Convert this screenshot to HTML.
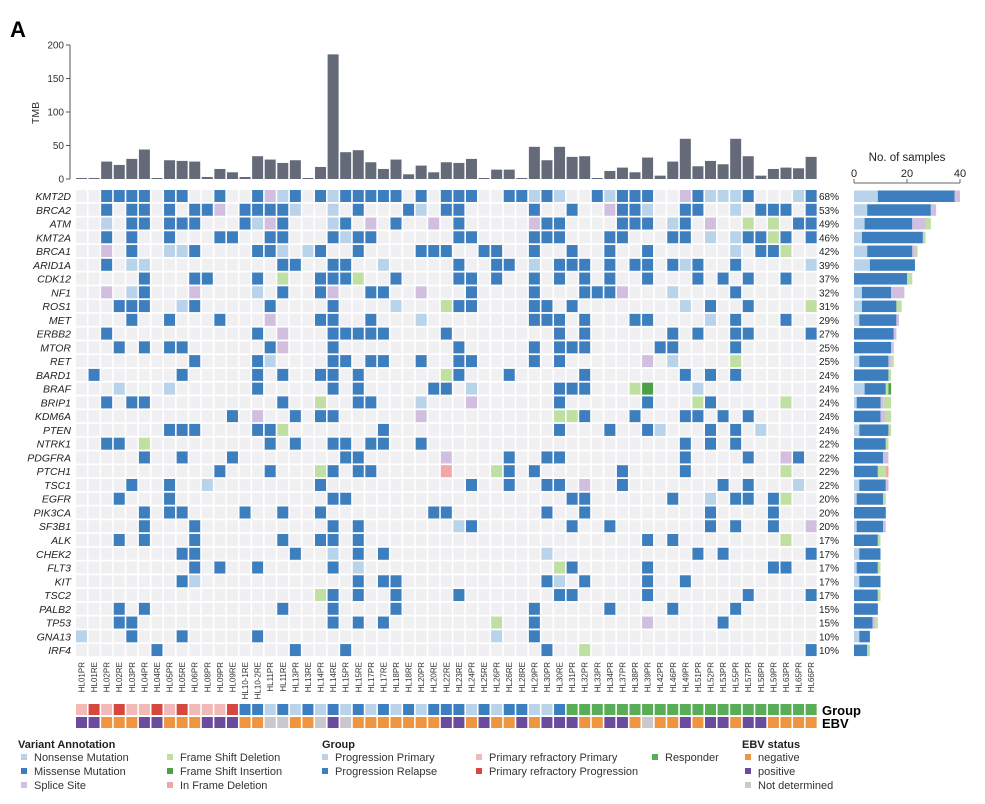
<!DOCTYPE html>
<html><head><meta charset="utf-8"><style>
body{margin:0;background:#fff;}
svg{display:block;font-family:"Liberation Sans",sans-serif;}
</style></head><body>
<svg id="chart" width="985" height="804" viewBox="0 0 985 804" xmlns="http://www.w3.org/2000/svg">
<text x="10" y="37" font-size="22" font-weight="bold">A</text>
<g id="tmb"></g>
<g id="grid"></g>
<g id="side"></g>
<g id="tracks"></g>
<g id="legend"></g>
</svg>
<script>
const samples=["HL01PR","HL01RE","HL02PR","HL02RE","HL03PR","HL04PR","HL04RE","HL05PR","HL05RE","HL06PR","HL08PR","HL09PR","HL09RE","HL10-1RE","HL10-2RE","HL11PR","HL11RE","HL13PR","HL13RE","HL14PR","HL14RE","HL15PR","HL15RE","HL17PR","HL17RE","HL18PR","HL18RE","HL20PR","HL20RE","HL22RE","HL23RE","HL24PR","HL25RE","HL26PR","HL26RE","HL28RE","HL29PR","HL30PR","HL30RE","HL31PR","HL32PR","HL33PR","HL34PR","HL37PR","HL38PR","HL39PR","HL42PR","HL46PR","HL49PR","HL51PR","HL52PR","HL53PR","HL55PR","HL57PR","HL58PR","HL59PR","HL63PR","HL65PR","HL66PR"];
const tmbValues=[1,1,26,21,30,44,1,28,27,26,3,15,10,3,34,29,24,28,1,18,186,40,43,25,15,29,7,20,10,25,24,30,1,14,14,1,48,28,48,33,34,1,12,17,10,32,5,26,60,19,27,22,60,34,5,15,17,16,33];
const tmbTicks=[0,50,100,150,200];
const genes=["KMT2D","BRCA2","ATM","KMT2A","BRCA1","ARID1A","CDK12","NF1","ROS1","MET","ERBB2","MTOR","RET","BARD1","BRAF","BRIP1","KDM6A","PTEN","NTRK1","PDGFRA","PTCH1","TSC1","EGFR","PIK3CA","SF3B1","ALK","CHEK2","FLT3","KIT","TSC2","PALB2","TP53","GNA13","IRF4"];
const pctLabels=["68%","53%","49%","46%","42%","39%","37%","32%","31%","29%","27%","25%","25%","24%","24%","24%","24%","24%","22%","22%","22%","22%","20%","20%","20%","17%","17%","17%","17%","17%","15%","15%","10%","10%"];
// mutations: gene row -> "col:type" (M missense, N nonsense, S splice, F fs del, I fs ins, D in-frame del)
const mutations=[
"2M 3M 4M 5M 7M 8M 11M 14M 15S 16N 17M 19M 20N 21M 22M 23M 24M 25M 27M 29M 30M 31M 34M 35M 36N 37M 38N 41M 42N 43M 44M 45M 48S 49M 50N 51N 52N 53M 57N 58M",
"2M 4M 5M 7M 9M 10M 11S 13M 14M 15M 16M 17N 20N 22M 26M 27N 29M 30M 36M 39M 42S 43M 44M 45N 48M 49M 52N 54M 55M 56M 58M",
"2N 4M 5M 7M 8M 9M 13M 14N 15S 16M 20N 21M 23S 25M 28S 30M 36S 37M 38M 43M 44M 45M 47N 48M 50S 53F 55F 57M 58M",
"2M 4M 7M 11M 12M 15M 16M 20M 21N 22M 23M 30M 31M 36M 37M 38M 42M 43M 47M 48M 50N 52N 53M 54M 55F 56M 58M",
"2S 4M 7N 8N 9M 14M 15M 16N 18N 19M 22M 27M 28M 29M 32M 33M 36M 39M 42M 45M 52N 54M 55M 56F",
"2M 4N 5N 16M 17M 20M 21M 24N 30M 33M 34M 36N 38M 39M 40M 42M 44M 45M 47M 48N 49M 52M 58N",
"5M 9M 10M 14M 16F 19M 20M 21M 22F 25M 30M 31M 33M 36M 38M 40M 42M 45M 49M 51M 53M 56M",
"2S 4N 5M 9S 14N 16M 19M 20S 23M 24M 27S 31M 36M 40M 41M 42M 43S 47N 52M",
"3M 4M 5M 8N 9M 15M 20M 25N 29F 30M 31M 36M 37M 39M 48N 50M 53M 58F",
"4M 7M 11M 15S 19M 20M 23M 27N 36M 37M 38M 40M 44M 45M 50N 52M 56M",
"2M 14M 16S 20M 21M 22M 23M 24M 29M 38M 40M 47M 49M 52M 53M 58M",
"3M 5M 7M 8M 15M 16S 20M 30M 36M 38M 39M 40M 46M 47M 52M",
"9M 14M 15N 20M 21M 23M 24M 27M 30M 31M 36M 38M 45S 47N 52F",
"1M 8M 14M 16M 19M 20M 22M 29F 30M 34M 40M 48M 50M 52M",
"3N 7N 14M 20M 22M 28M 29M 31N 38M 39M 40M 44F 45I 49N",
"2M 4M 5M 16M 19F 22M 23M 27N 31S 38M 45M 49F 50M 56F",
"12M 14S 17M 19M 20M 27S 38F 39F 40M 44M 48M 49M 51M 53M",
"7M 8M 9M 14M 15M 16F 24M 38M 42M 45M 46N 50M 52M 54N",
"2M 3M 5F 15M 17M 20M 21M 23M 24M 27M 48M 50M 52M",
"5M 8M 12M 21M 22M 29S 34M 37M 38M 48M 53M 56S 57M",
"11M 15M 19F 20M 22M 23M 29D 33F 34M 36M 43M 48M 56F",
"4M 7M 10N 19M 31M 34M 37M 38M 40S 43M 51M 53M 57N",
"3M 7M 20M 21M 39M 40M 47M 50N 52M 53M 55M 56F",
"5M 7M 8M 13M 16M 19M 28M 29M 37M 40M 50M 55M",
"5M 9M 20M 22M 30N 31M 39M 42M 50M 52M 55M 58S",
"3M 5M 9M 16M 19M 20M 22M 45M 47M 56F",
"8M 9M 17M 20N 22M 24M 37N 49M 51M 58M",
"9M 11M 14M 20M 22N 38F 39M 45M 55M 56M",
"8M 9N 22M 24M 25M 37M 38N 40M 45M 48M",
"19F 20M 22M 25M 30M 38M 39M 45M 53M 58M",
"3M 5M 16M 20M 25M 36M 42M 47M 52M",
"3M 4M 20M 22M 24M 33F 36M 45S 51M",
"0N 4M 8M 14M 33N 36M",
"6M 17M 21M 37M 40F 58M"];
const groupCodes="ARARAARARAAAR"+"BBLBLBLBLBLBLBLBBBL"+"BLBBLLB"+"GGGGGGGGGGGGGGGGGGGG";
const ebvCodes="PPOOOPPOOOPPPOOXXOOXPXOOOOOOOPPOPOOPOPPPOOPPOXOOPOPPOPPOOOO";
const sideTicks=[0,20,40];

const colors={M:"#3d7ebf",N:"#b8d3ea",S:"#d2bfe0",F:"#bfe0a2",I:"#4e9f45",D:"#f2a6a6"};
const order=["N","M","S","F","I","D"];
const groupColors={A:"#f2b9b9",R:"#d6473d",L:"#b9d4ea",B:"#3c7fc1",G:"#5aad57"};
const ebvColors={O:"#f0953f",P:"#6a4b9e",X:"#c9c9cd"};
const NS="http://www.w3.org/2000/svg";
function mk(tag,attrs,parent,txt){const e=document.createElementNS(NS,tag);for(const k in attrs)e.setAttribute(k,attrs[k]);if(txt!==undefined)e.textContent=txt;parent.appendChild(e);return e;}
const X0=76,CW=12.58,Y0=190,RH=13.76;
const xCol=c=>X0+CW*c;
const yRow=r=>Y0+RH*r;
const tmbBase=179,tmbScale=134/200;
const yTmb=v=>tmbBase-v*tmbScale;
const sideX0=854,sideScale=106/40;
const xSide=v=>sideX0+v*sideScale;

// TMB
const tmb=document.getElementById('tmb');
let ax=mk('line',{x1:70,y1:yTmb(200),x2:70,y2:tmbBase,stroke:"#555","stroke-width":1},tmb);

tmbTicks.forEach(t=>{
  const l=mk('line',{x1:66,x2:70,y1:yTmb(t),y2:yTmb(t),stroke:"#555"},tmb);
  
  const tx=mk('text',{x:64,y:yTmb(t)+3.5,"font-size":10,"text-anchor":"end",fill:"#333"},tmb,String(t));
  
});
const tl=mk('text',{x:0,y:0,"font-size":10.5,"text-anchor":"middle",fill:"#333",transform:"translate(39,113) rotate(-90)"},tmb,"TMB");

tmbValues.forEach((v,c)=>{
  const h=Math.max(v*tmbScale,1);
  const b=mk('rect',{x:xCol(c),y:tmbBase-h,width:11,height:h,fill:"#646a78"},tmb);
  
});

// grid
const grid=document.getElementById('grid');
const side=document.getElementById('side');
genes.forEach((g,r)=>{
  const gl=mk('text',{x:71,y:yRow(r)+10,"font-size":10.5,"font-style":"italic","text-anchor":"end",fill:"#222"},grid,g);
  
  const map={};
  mutations[r].split(" ").forEach(s=>{map[parseInt(s)]=s.slice(-1);});
  for(let c=0;c<samples.length;c++){
    const t=map[c];
    const cell=mk('rect',{x:xCol(c),y:yRow(r),width:11,height:12,fill:t?colors[t]:"#f0f0f2"},grid);
    
  }
  const pl=mk('text',{x:819,y:yRow(r)+10,"font-size":10,fill:"#222"},grid,pctLabels[r]);
  
  let acc=0;
  order.forEach(t=>{
    const n=Object.values(map).filter(v=>v===t).length;
    if(!n)return;
    const b=mk('rect',{x:xSide(acc),y:yRow(r)+0.5,width:n*sideScale,height:11.5,fill:colors[t]},side);
    
    acc+=n;
  });
});
// side axis
const sl=mk('line',{x1:xSide(0),x2:xSide(40),y1:183,y2:183,stroke:"#666"},side);

sideTicks.forEach(t=>{
  const l=mk('line',{x1:xSide(t),x2:xSide(t),y1:179,y2:183,stroke:"#666"},side);
  
  const tx=mk('text',{x:xSide(t),y:177,"font-size":11,"text-anchor":"middle",fill:"#222"},side,String(t));
  
});
const st=mk('text',{x:907,y:161,"font-size":11.5,"text-anchor":"middle",fill:"#222"},side,"No. of samples");


// tracks
const tr=document.getElementById('tracks');
samples.forEach((s,c)=>{
  const t=mk('text',{x:0,y:0,"font-size":8,"text-anchor":"end",fill:"#333",transform:`translate(${xCol(c)+8.5},662) rotate(-90)`},tr,s);
  
  const g=mk('rect',{x:xCol(c),y:704,width:11,height:11,fill:groupColors[groupCodes[c]]||"#5aad57"},tr);
  
  const e=mk('rect',{x:xCol(c),y:717,width:11,height:11,fill:ebvColors[ebvCodes[c]]||"#f0953f"},tr);
  
});
const gt=mk('text',{x:822,y:715,"font-size":13,"font-weight":"bold"},tr,"Group");

const et=mk('text',{x:822,y:728,"font-size":13,"font-weight":"bold"},tr,"EBV");


// legend
const lg=document.getElementById('legend');
const titles=[["Variant Annotation",18],["Group",322],["EBV status",742]];
titles.forEach(([t,x])=>{
  const e=mk('text',{x:x,y:748,"font-size":11,"font-weight":"bold",fill:"#222"},lg,t);
  
});
const items=[
 ["Nonsense Mutation",colors.N,21,761],["Missense Mutation",colors.M,21,775],["Splice Site",colors.S,21,789],
 ["Frame Shift Deletion",colors.F,167,761],["Frame Shift Insertion",colors.I,167,775],["In Frame Deletion",colors.D,167,789],
 ["Progression Primary",groupColors.L,322,761],["Progression Relapse",groupColors.B,322,775],
 ["Primary refractory Primary",groupColors.A,476,761],["Primary refractory Progression",groupColors.R,476,775],
 ["Responder",groupColors.G,652,761],
 ["negative",ebvColors.O,745,761],["positive",ebvColors.P,745,775],["Not determined",ebvColors.X,745,789]];
items.forEach(([t,col,x,y])=>{
  const r=mk('rect',{x:x,y:y-7,width:6,height:6,fill:col},lg);
  
  const e=mk('text',{x:x+13,y:y,"font-size":11,fill:"#333"},lg,t);
  
});
</script>
</body></html>
